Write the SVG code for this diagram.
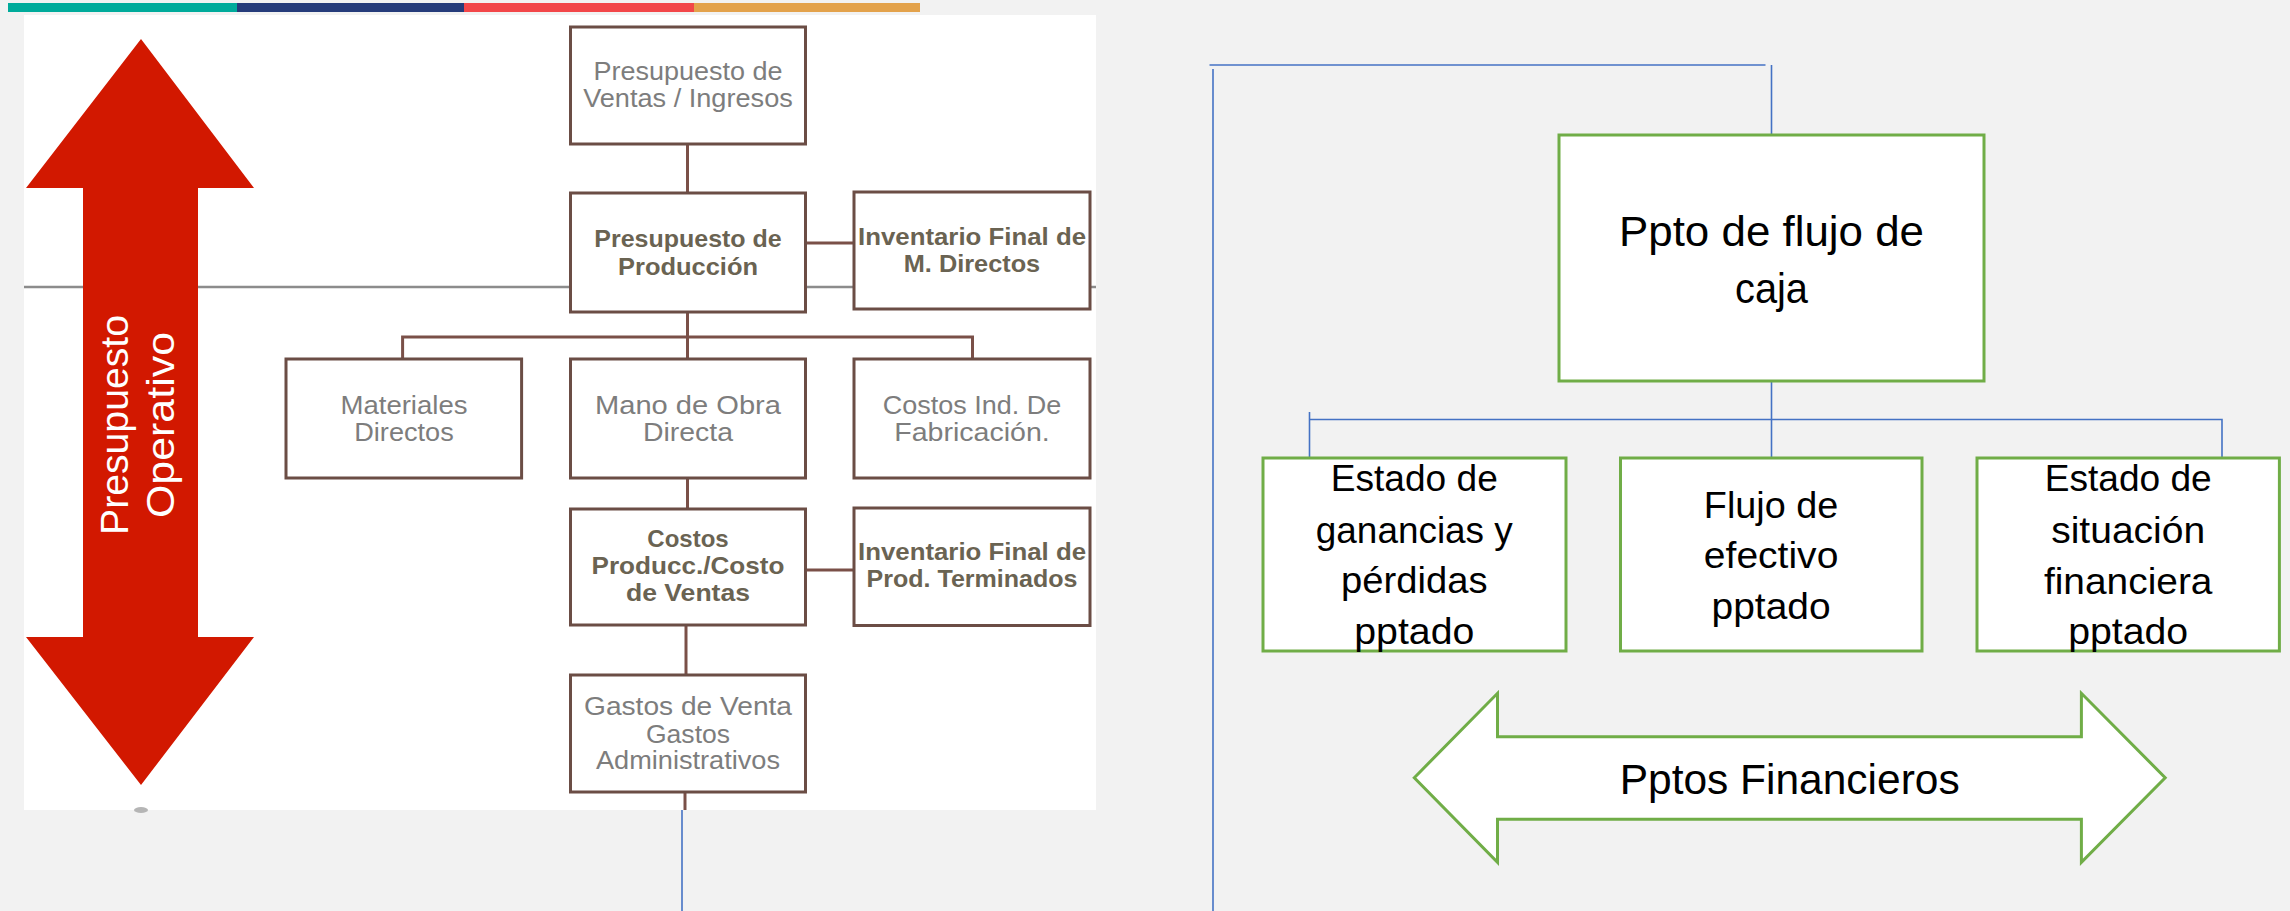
<svg xmlns="http://www.w3.org/2000/svg" width="2290" height="911" viewBox="0 0 2290 911">
<style>
.bx{fill:#fff;stroke:#6b4d45;stroke-width:3}
.gb{fill:#fff;stroke:#70ad47;stroke-width:3}
.bc{fill:none;stroke:#7a5048;stroke-width:3}
.bl{fill:none;stroke:#4472c4;stroke-width:1.6}
.lt{font-family:"Liberation Sans",Arial,sans-serif;font-size:25px;fill:#7d7d7d;text-anchor:middle}
.bt{font-family:"Liberation Sans",Arial,sans-serif;font-size:24px;font-weight:bold;fill:#6a6352;text-anchor:middle}
.gt{font-family:"Liberation Sans",Arial,sans-serif;font-size:36px;fill:#000;text-anchor:middle}
.wt{font-family:"Liberation Sans",Arial,sans-serif;font-size:39px;fill:#fff;text-anchor:middle}
</style>
<rect x="0" y="0" width="2290" height="911" fill="#f2f2f2"/>
<g id="topbar">
<rect x="8" y="3" width="229" height="9" fill="#00ab9b"/>
<rect x="237" y="3" width="227" height="9" fill="#253b7a"/>
<rect x="464" y="3" width="230" height="9" fill="#f24649"/>
<rect x="694" y="3" width="226" height="9" fill="#e3a24b"/>
</g>
<rect x="24" y="15" width="1072" height="795" fill="#fff"/>
<line x1="24" y1="287" x2="1096" y2="287" stroke="#8c8c8c" stroke-width="2.5"/>
<g id="red-arrow">
<polygon points="141,39 254,188 198,188 198,637 254,637 141,785 26,637 83,637 83,188 26,188" fill="#d21800"/>
<text class="wt" transform="translate(128,425) rotate(-90)" textLength="220" lengthAdjust="spacingAndGlyphs">Presupuesto</text>
<text class="wt" transform="translate(174,425) rotate(-90)" textLength="186" lengthAdjust="spacingAndGlyphs">Operativo</text>
</g>
<ellipse cx="141" cy="810" rx="7" ry="3" fill="#b5b5b5"/>
<g id="connectors-left">
<line class="bc" x1="687.5" y1="144" x2="687.5" y2="193"/>
<line class="bc" x1="805" y1="243" x2="854" y2="243"/>
<polyline class="bc" points="402.6,359 402.6,337 972.5,337 972.5,359"/>
<line class="bc" x1="687.5" y1="312" x2="687.5" y2="359"/>
<line class="bc" x1="687.5" y1="478" x2="687.5" y2="509"/>
<line class="bc" x1="805" y1="570" x2="854" y2="570"/>
<line class="bc" x1="686" y1="625" x2="686" y2="675"/>
<line class="bc" x1="685" y1="792" x2="685" y2="810"/>
</g>
<g id="n-ventas">
<rect class="bx" x="570.5" y="27" width="235" height="117"/>
<text class="lt" x="688" y="80" textLength="189" lengthAdjust="spacingAndGlyphs">Presupuesto de</text>
<text class="lt" x="688" y="106.7" textLength="209.6" lengthAdjust="spacingAndGlyphs">Ventas / Ingresos</text>
</g>
<g id="n-produccion">
<rect class="bx" x="570.5" y="193" width="235" height="119"/>
<text class="bt" x="688" y="247.3" textLength="187.5" lengthAdjust="spacingAndGlyphs">Presupuesto de</text>
<text class="bt" x="688" y="275" textLength="140" lengthAdjust="spacingAndGlyphs">Producción</text>
</g>
<g id="n-inv-md">
<rect class="bx" x="854" y="192" width="236" height="117"/>
<text class="bt" x="972" y="245" textLength="228" lengthAdjust="spacingAndGlyphs">Inventario Final de</text>
<text class="bt" x="972" y="271.7" textLength="136.4" lengthAdjust="spacingAndGlyphs">M. Directos</text>
</g>
<g id="n-materiales">
<rect class="bx" x="286" y="359" width="235.6" height="119"/>
<text class="lt" x="404" y="414.3" textLength="127" lengthAdjust="spacingAndGlyphs">Materiales</text>
<text class="lt" x="404" y="441" textLength="99.5" lengthAdjust="spacingAndGlyphs">Directos</text>
</g>
<g id="n-mano">
<rect class="bx" x="570.5" y="359" width="235" height="119"/>
<text class="lt" x="688" y="414.3" textLength="186" lengthAdjust="spacingAndGlyphs">Mano de Obra</text>
<text class="lt" x="688" y="441" textLength="90" lengthAdjust="spacingAndGlyphs">Directa</text>
</g>
<g id="n-costos-ind">
<rect class="bx" x="854" y="359" width="236" height="119"/>
<text class="lt" x="972" y="414.3" textLength="178.6" lengthAdjust="spacingAndGlyphs">Costos Ind. De</text>
<text class="lt" x="972" y="441" textLength="155.4" lengthAdjust="spacingAndGlyphs">Fabricación.</text>
</g>
<g id="n-costos-prod">
<rect class="bx" x="570.5" y="509" width="235" height="116"/>
<text class="bt" x="688" y="546.7" textLength="81.4" lengthAdjust="spacingAndGlyphs">Costos</text>
<text class="bt" x="688" y="574" textLength="193" lengthAdjust="spacingAndGlyphs">Producc./Costo</text>
<text class="bt" x="688" y="600.7" textLength="124" lengthAdjust="spacingAndGlyphs">de Ventas</text>
</g>
<g id="n-inv-pt">
<rect class="bx" x="854" y="508" width="236" height="117.5"/>
<text class="bt" x="972" y="560" textLength="228" lengthAdjust="spacingAndGlyphs">Inventario Final de</text>
<text class="bt" x="972" y="587.3" textLength="211" lengthAdjust="spacingAndGlyphs">Prod. Terminados</text>
</g>
<g id="n-gastos">
<rect class="bx" x="570.5" y="675" width="235" height="117"/>
<text class="lt" x="688" y="715" textLength="208" lengthAdjust="spacingAndGlyphs">Gastos de Venta</text>
<text class="lt" x="688" y="742.7" textLength="84" lengthAdjust="spacingAndGlyphs">Gastos</text>
<text class="lt" x="688" y="769.3" textLength="184" lengthAdjust="spacingAndGlyphs">Administrativos</text>
</g>
<g id="connectors-right">
<line class="bl" x1="682" y1="810" x2="682" y2="911"/>
<line class="bl" x1="1213" y1="69" x2="1213" y2="911"/>
<line class="bl" x1="1209.5" y1="65" x2="1765.5" y2="65"/>
<line class="bl" x1="1771.5" y1="65" x2="1771.5" y2="135"/>
<line class="bl" x1="1771.5" y1="381" x2="1771.5" y2="458"/>
<polyline class="bl" points="1309.5,412 1309.5,468"/>
<polyline class="bl" points="1309.5,419.5 2222,419.5 2222,475"/>
</g>
<g id="n-flujo-caja">
<rect class="gb" x="1559" y="135" width="425" height="246"/>
<text class="gt" x="1771.5" y="246" style="font-size:43px" textLength="305" lengthAdjust="spacingAndGlyphs">Ppto de flujo de</text>
<text class="gt" x="1771.5" y="302.7" style="font-size:43px" textLength="73" lengthAdjust="spacingAndGlyphs">caja</text>
</g>
<g id="n-ganancias">
<rect class="gb" x="1263" y="458" width="303" height="193"/>
<text class="gt" x="1414.3" y="491" textLength="167" lengthAdjust="spacingAndGlyphs">Estado de</text>
<text class="gt" x="1414.3" y="542.7" textLength="197" lengthAdjust="spacingAndGlyphs">ganancias y</text>
<text class="gt" x="1414.3" y="593" textLength="146.5" lengthAdjust="spacingAndGlyphs">pérdidas</text>
<text class="gt" x="1414.3" y="644" textLength="120" lengthAdjust="spacingAndGlyphs">pptado</text>
</g>
<g id="n-flujo-efectivo">
<rect class="gb" x="1620.5" y="458" width="301.5" height="193"/>
<text class="gt" x="1771.1" y="517.7" textLength="134.5" lengthAdjust="spacingAndGlyphs">Flujo de</text>
<text class="gt" x="1771.1" y="567.7" textLength="134.5" lengthAdjust="spacingAndGlyphs">efectivo</text>
<text class="gt" x="1771.1" y="619" textLength="119" lengthAdjust="spacingAndGlyphs">pptado</text>
</g>
<g id="n-situacion">
<rect class="gb" x="1977" y="458" width="302.4" height="193"/>
<text class="gt" x="2128.2" y="491" textLength="167" lengthAdjust="spacingAndGlyphs">Estado de</text>
<text class="gt" x="2128.2" y="543" textLength="154" lengthAdjust="spacingAndGlyphs">situación</text>
<text class="gt" x="2128.2" y="594" textLength="168.5" lengthAdjust="spacingAndGlyphs">financiera</text>
<text class="gt" x="2128.2" y="644" textLength="120" lengthAdjust="spacingAndGlyphs">pptado</text>
</g>
<g id="n-pptos-financieros">
<polygon class="gb" points="1414.3,777.7 1497.5,693.3 1497.5,736.7 2081.4,736.7 2081.4,693.3 2165.2,777.7 2081.4,862.3 2081.4,819.3 1497.5,819.3 1497.5,862.3"/>
<text class="gt" x="1789.7" y="794" style="font-size:43px" textLength="340" lengthAdjust="spacingAndGlyphs">Pptos Financieros</text>
</g>
</svg>
